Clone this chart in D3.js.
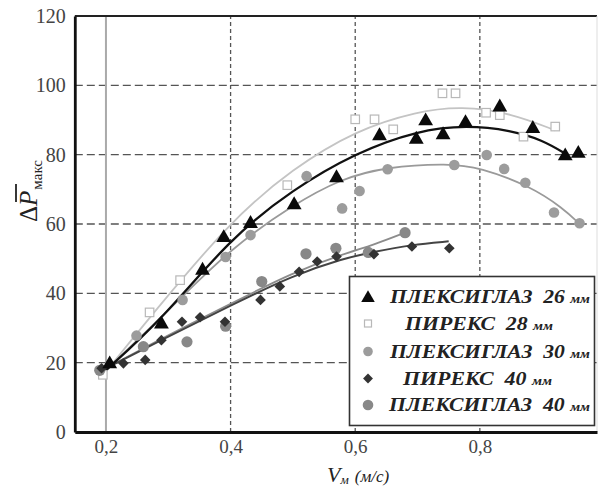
<!DOCTYPE html>
<html><head><meta charset="utf-8">
<script src="https://cdn.jsdelivr.net/npm/d3@7"></script>
<style>body{margin:0;background:#fff}svg{display:block}text{font-family:"Liberation Serif","Times New Roman",serif}</style>
</head><body><svg id="c" width="601" height="489"></svg>
<script>
// ---- data ----
const xTicks = [0.2, 0.4, 0.6, 0.8];
const xTickLabels = ["0,2", "0,4", "0,6", "0,8"];
const yTicks = [0, 20, 40, 60, 80, 100, 120];
const yGrid = [20, 40, 60, 80, 100];
const xGrid = [0.4, 0.6, 0.8];

const plex26 = [[0.206,19.9],[0.289,31.4],[0.355,46.9],[0.389,56.3],[0.432,60.4],[0.502,65.8],[0.570,73.6],[0.639,85.7],[0.698,84.7],[0.713,90.0],[0.741,86.0],[0.777,89.5],[0.832,94.0],[0.885,87.8],[0.937,79.9],[0.958,80.6]];
const pyr28 = [[0.195,16.5],[0.270,34.5],[0.319,43.8],[0.491,71.2],[0.600,90.2],[0.631,90.2],[0.661,87.3],[0.740,97.7],[0.761,97.7],[0.810,92.1],[0.832,91.4],[0.870,85.2],[0.921,88.1]];
const plex30 = [[0.249,27.8],[0.323,38.1],[0.392,50.5],[0.432,56.8],[0.522,73.8],[0.579,64.5],[0.607,69.5],[0.652,75.8],[0.759,77.0],[0.811,79.9],[0.839,75.9],[0.873,71.9],[0.919,63.3],[0.960,60.2]];
const pyr40 = [[0.193,18.4],[0.228,19.8],[0.263,20.8],[0.289,26.5],[0.322,31.8],[0.351,33.1],[0.391,31.8],[0.448,38.1],[0.479,42.0],[0.510,46.2],[0.539,49.2],[0.570,50.6],[0.630,51.3],[0.691,53.5],[0.751,53.0]];
const plex40 = [[0.190,17.8],[0.260,24.6],[0.330,26.0],[0.392,30.5],[0.450,43.4],[0.521,51.4],[0.569,53.0],[0.621,51.8],[0.680,57.5]];

const fit26 = [[0.198,17.5],[0.29,32.5],[0.4,56],[0.5,70],[0.6,80.5],[0.7,87],[0.78,88.5],[0.85,87],[0.9,84.3],[0.94,80]];
const fit28 = [[0.198,17],[0.27,33],[0.4,61],[0.5,76],[0.6,87],[0.7,92.5],[0.77,94],[0.85,92],[0.921,87]];
const fit30 = [[0.198,17.5],[0.3,35],[0.4,53],[0.5,65.5],[0.576,73],[0.65,76.5],[0.75,77.5],[0.8,76.3],[0.88,71],[0.934,64.5],[0.96,60]];
const fitP40 = [[0.196,18],[0.3,27.5],[0.4,36.5],[0.5,45.2],[0.58,50],[0.63,52],[0.69,54],[0.75,55]];
const fitL40 = [[0.196,18],[0.3,28],[0.4,37],[0.5,46],[0.58,51.3],[0.63,54],[0.68,57.5]];

const legendLabels = ["ПЛЕКСИГЛАЗ  26 ", "ПИРЕКС  28 ", "ПЛЕКСИГЛАЗ  30 ", "ПИРЕКС  40 ", "ПЛЕКСИГЛАЗ  40 "];
const legendUnit = "мм";

// ---- drawing ----
const svg = d3.select("#c");
const x = d3.scaleLinear().domain([0.15, 0.988]).range([74.8, 597]);
const y = d3.scaleLinear().domain([0, 120]).range([432, 16]);

// grid
svg.append("g").selectAll("line").data(yGrid).join("line")
  .attr("x1", x(0.15)).attr("x2", x(0.988)).attr("y1", d => y(d)).attr("y2", d => y(d))
  .attr("stroke", "#555").attr("stroke-width", 1.3).attr("stroke-dasharray", "8,4");
svg.append("g").selectAll("line").data(xGrid).join("line")
  .attr("x1", d => x(d)).attr("x2", d => x(d)).attr("y1", y(0)).attr("y2", y(120))
  .attr("stroke", "#555").attr("stroke-width", 1.3).attr("stroke-dasharray", "4,3");
svg.append("line").attr("x1", x(0.2)).attr("x2", x(0.2)).attr("y1", y(0)).attr("y2", y(120))
  .attr("stroke", "#aaa").attr("stroke-width", 2);

// frame
svg.append("line").attr("x1", x(0.15)).attr("x2", x(0.988)).attr("y1", y(120)).attr("y2", y(120)).attr("stroke", "#222").attr("stroke-width", 2);
svg.append("line").attr("x1", x(0.988)).attr("x2", x(0.988)).attr("y1", y(120)).attr("y2", y(0)).attr("stroke", "#ddd").attr("stroke-width", 1);

// axes
const yAxis = d3.axisLeft(y).tickValues(yTicks).tickSize(0).tickPadding(9);
const gy = svg.append("g").attr("transform", `translate(${x(0.15)},0)`).call(yAxis);
gy.select(".domain").attr("stroke", "#111").attr("stroke-width", 2.8);
gy.selectAll("text").attr("font-size", 20).attr("fill", "#444").attr("font-family", "Liberation Serif");
const xAxis = d3.axisBottom(x).tickValues(xTicks).tickFormat((d, i) => xTickLabels[i]).tickSize(0).tickPadding(8);
const gx = svg.append("g").attr("transform", `translate(0,${y(0)})`).call(xAxis);
gx.select(".domain").attr("stroke", "#111").attr("stroke-width", 2.8);
gx.selectAll("text").attr("font-size", 19).attr("fill", "#444").attr("font-family", "Liberation Serif");

// curves
const line = d3.line().x(d => x(d[0])).y(d => y(d[1])).curve(d3.curveBasis);
const curves = [
  {d: fit28, c: "#c4c4c4", w: 1.8},
  {d: fit30, c: "#9a9a9a", w: 1.8},
  {d: fitL40, c: "#8c8c8c", w: 1.8},
  {d: fitP40, c: "#444", w: 2},
  {d: fit26, c: "#111", w: 2.3}
];
svg.append("g").selectAll("path").data(curves).join("path")
  .attr("d", d => line(d.d)).attr("fill", "none").attr("stroke", d => d.c).attr("stroke-width", d => d.w);

// markers
function drawMarker(g, type, px, py, legend) {
  if (type === "tri") {
    g.append("path").attr("d", d3.symbol(d3.symbolTriangle, legend ? 80 : 95)()).attr("transform", `translate(${px},${py + 1})`).attr("fill", "#0a0a0a");
  } else if (type === "sq") {
    const s = legend ? 7 : 8.5;
    g.append("rect").attr("x", px - s / 2).attr("y", py - s / 2).attr("width", s).attr("height", s)
      .attr("fill", "#fff").attr("stroke", "#b8b8b8").attr("stroke-width", 1.2);
  } else if (type === "c30") {
    g.append("circle").attr("cx", px).attr("cy", py).attr("r", legend ? 4.8 : 5.3).attr("fill", "#9c9c9c");
  } else if (type === "dia") {
    const s = legend ? 7 : 7.5;
    g.append("rect").attr("x", -s / 2).attr("y", -s / 2).attr("width", s).attr("height", s)
      .attr("transform", `translate(${px},${py}) rotate(45)`).attr("fill", "#333");
  } else if (type === "c40") {
    g.append("circle").attr("cx", px).attr("cy", py).attr("r", legend ? 5.3 : 5.6).attr("fill", "#888");
  }
}
const pts = svg.append("g");
[[pyr28, "sq"], [plex30, "c30"], [plex40, "c40"], [pyr40, "dia"], [plex26, "tri"]].forEach(([arr, t]) => {
  arr.forEach(p => drawMarker(pts, t, x(p[0]), y(p[1]), false));
});

// legend
const lg = svg.append("g");
lg.append("rect").attr("x", 349.5).attr("y", 276.5).attr("width", 245).attr("height", 149)
  .attr("fill", "#fff").attr("stroke", "#333").attr("stroke-width", 1.6);
const legTypes = ["tri", "sq", "c30", "dia", "c40"];
const legY = [297, 323.5, 351.5, 378.5, 405];
const legX = [390, 405, 390, 403, 389];
const legW = [200, 148, 200, 149, 201];
legTypes.forEach((t, i) => {
  drawMarker(lg, t, 368, legY[i], true);
  const tx = lg.append("text").attr("x", legX[i]).attr("y", legY[i] + 6)
    .attr("font-size", 18).attr("font-weight", "bold").attr("font-style", "italic").attr("fill", "#222")
    .attr("textLength", legW[i]).attr("lengthAdjust", "spacingAndGlyphs").attr("xml:space", "preserve");
  tx.append("tspan").text(legendLabels[i]);
  tx.append("tspan").attr("font-size", 12).text(legendUnit);
});

// y label
const yl = svg.append("g").attr("transform", "translate(37,222) rotate(-90)");
const ylt = yl.append("text").attr("x", 0).attr("y", 0).attr("fill", "#222").attr("font-size", 25);
ylt.append("tspan").text("Δ");
ylt.append("tspan").attr("font-style", "italic").text("P");
ylt.append("tspan").attr("font-size", 15).attr("dy", 5).attr("dx", 1).text("макс");
yl.append("line").attr("x1", 20).attr("x2", 38).attr("y1", -21).attr("y2", -21).attr("stroke", "#222").attr("stroke-width", 1.8);

// x label
const xl = svg.append("text").attr("x", 327).attr("y", 482).attr("fill", "#222").attr("font-style", "italic");
xl.append("tspan").attr("font-size", 22).text("V");
xl.append("tspan").attr("font-size", 13).attr("dy", 2).text("м");
xl.append("tspan").attr("font-size", 17).attr("dy", -2).attr("dx", 6).text("(м/с)");
</script></body></html>
